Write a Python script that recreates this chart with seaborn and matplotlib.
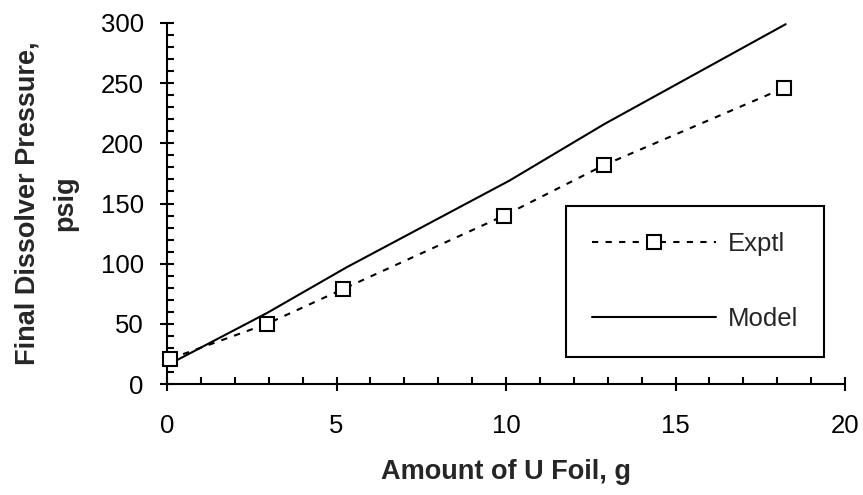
import matplotlib
matplotlib.use("Agg")
import matplotlib.pyplot as plt
import seaborn as sns
import pandas as pd
from matplotlib.ticker import MultipleLocator

foil_exptl = [0.1, 2.95, 5.2, 9.95, 12.9, 18.2]
pressure_exptl = [21, 50, 79, 140, 182, 246]
foil_model = [0.1, 2.95, 5.3, 10.1, 12.9, 18.25]
pressure_model = [17, 59, 97, 169, 216, 299]
series_labels = ["Exptl", "Model"]

sns.set_theme(style="white")
plt.rcParams['font.family'] = ['Liberation Sans', 'DejaVu Sans']

LW = 1.5
FS = 18.5
DASH = (0, (3, 3.5))

fig = plt.figure(figsize=(8.63, 4.95), dpi=100)
ax = fig.add_axes([167 / 863, 1 - 384 / 495, 678 / 863, 361 / 495])

df_e = pd.DataFrame({"x": foil_exptl, "y": pressure_exptl})
df_m = pd.DataFrame({"x": foil_model, "y": pressure_model})

sns.lineplot(data=df_m, x="x", y="y", ax=ax, color="black", linewidth=LW,
             sort=False, estimator=None)
sns.lineplot(data=df_e, x="x", y="y", ax=ax, color="black", linewidth=LW,
             sort=False, estimator=None, linestyle=DASH,
             marker="s", markersize=9.5, markerfacecolor="white",
             markeredgecolor="black", markeredgewidth=LW, zorder=5, clip_on=False)

ax.set_xlim(0, 20)
ax.set_ylim(0, 300)
ax.xaxis.set_major_locator(MultipleLocator(5))
ax.xaxis.set_minor_locator(MultipleLocator(1))
ax.yaxis.set_major_locator(MultipleLocator(50))
ax.yaxis.set_minor_locator(MultipleLocator(10))

for s in ["top", "right"]:
    ax.spines[s].set_visible(False)
for s in ["left", "bottom"]:
    ax.spines[s].set_color("black")
    ax.spines[s].set_linewidth(LW)

ax.tick_params(which="major", direction="inout", length=9.5, width=LW,
               colors="black", labelsize=FS)
ax.tick_params(which="minor", direction="in", length=5, width=LW, colors="black")
ax.tick_params(axis="x", which="both", bottom=True)
ax.tick_params(axis="x", which="major", pad=17)
ax.tick_params(axis="y", which="both", left=True)
ax.tick_params(axis="y", which="major", pad=12)

ax.set_xlabel("Amount of U Foil, g", fontsize=19.5, fontweight="bold", labelpad=15)
ax.set_ylabel("Final Dissolver Pressure,\npsig", fontsize=19.5, fontweight="bold",
              linespacing=1.6)
ax.yaxis.set_label_coords(-0.131, 0.5)

h_e = plt.Line2D([], [], color="black", linewidth=LW, linestyle=DASH,
                 marker="s", markersize=9.5, markerfacecolor="white",
                 markeredgecolor="black", markeredgewidth=LW)
h_m = plt.Line2D([], [], color="black", linewidth=LW)
leg = ax.legend([h_e, h_m], series_labels, loc="upper left",
                bbox_to_anchor=(399 / 678, 178 / 361),
                fontsize=FS, frameon=True, fancybox=False, framealpha=1,
                edgecolor="black", handlelength=4.85, labelspacing=2.0,
                borderpad=1.0, handletextpad=0.45, borderaxespad=0)
leg.get_frame().set_linewidth(LW)

fig.savefig("out.png", dpi=100)
